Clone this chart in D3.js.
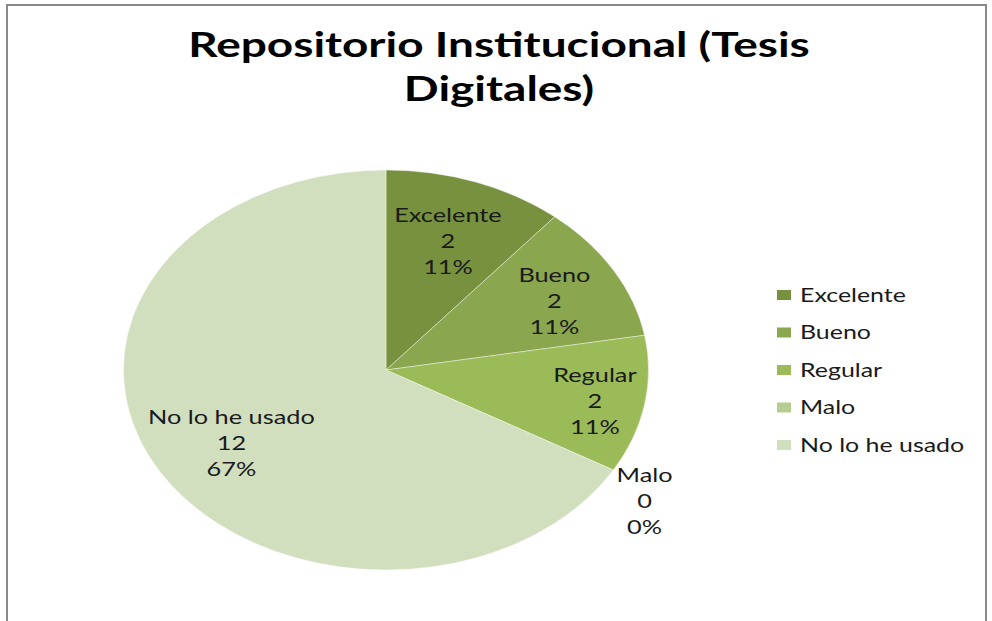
<!DOCTYPE html>
<html><head><meta charset="utf-8">
<script src="https://cdn.jsdelivr.net/npm/d3@7"></script>
<style>html,body{margin:0;padding:0;background:#fff;}svg{display:block;}</style>
</head><body>
<script>
const categories = ["Excelente", "Bueno", "Regular", "Malo", "No lo he usado"];
const values = [2, 2, 2, 0, 12];
const percents = ["11%", "11%", "11%", "0%", "67%"];
const colors = ["#77913f", "#8aa64e", "#9bbb59", "#b7cc91", "#d2dfbf"];
const titleLines = ["Repositorio Institucional (Tesis", "Digitales)"];

const W = 992, H = 621;
const sx = 1.3125; // horizontal stretch of the original picture
const cx = 386, cy = 370, R = 200;

const svg = d3.select("body").append("svg").attr("width", W).attr("height", H);
svg.append("rect").attr("x", 0).attr("y", 0).attr("width", W).attr("height", H).attr("fill", "#fff");
svg.append("rect").attr("x", 7).attr("y", 5).attr("width", 979).attr("height", 640)
  .attr("fill", "none").attr("stroke", "#8a8a8a").attr("stroke-width", 2);

// Title
const tg = svg.append("g");
titleLines.forEach((t, i) => {
  tg.append("text")
    .attr("transform", `translate(499,${57 + i * 44}) scale(${sx},1)`)
    .attr("text-anchor", "middle")
    .attr("font-family", "Lato, 'Open Sans', sans-serif")
    .attr("font-weight", "bold")
    .attr("font-size", 35)
    .attr("fill", "#000")
    .text(t);
});

// Pie
const data = categories.map((c, i) => ({ name: c, value: values[i], pct: percents[i], color: colors[i] }));
const pie = d3.pie().value(d => d.value).sort(null);
const arcs = pie(data);
const arc = d3.arc().innerRadius(0).outerRadius(R);

const pg = svg.append("g").attr("transform", `translate(${cx},${cy}) scale(${sx},1)`);
pg.selectAll("path").data(arcs.filter(a => a.data.value > 0)).enter().append("path")
  .attr("d", arc)
  .attr("fill", d => d.data.color)
  .attr("stroke", "#ffffff")
  .attr("stroke-opacity", 0.5)
  .attr("stroke-width", 0.8)
  .attr("vector-effect", "non-scaling-stroke");

// Data labels (radius factor and small angle shift per label, as placed in the original)
const labelR = [0.69, 0.73, 0.81, 1.18, 0.69];
const labelDA = [0, 1.5, 0.7, 3.4, -1.4];
const lineH = 26;
arcs.forEach((a, i) => {
  const mid = (a.startAngle + a.endAngle) / 2 + labelDA[i] * Math.PI / 180;
  const r = R * labelR[i];
  const x = cx + Math.sin(mid) * r * sx;
  const y = cy - Math.cos(mid) * r;
  const lines = [a.data.name, String(a.data.value), a.data.pct];
  const t = svg.append("text")
    .attr("transform", `translate(${x},${y + 8}) scale(${sx},1)`)
    .attr("text-anchor", "middle")
    .attr("font-family", "Lato, 'Open Sans', sans-serif")
    .attr("font-size", 19.3)
    .attr("fill", "#1a1a1a");
  lines.forEach((l, j) => {
    t.append("tspan").attr("x", 0).attr("y", (j - 1) * lineH).text(l);
  });
});

// Legend
const lg = svg.append("g");
data.forEach((d, i) => {
  const y = 295 + i * 37.5;
  lg.append("rect").attr("x", 777).attr("y", y - 5).attr("width", 14).attr("height", 10).attr("fill", d.color);
  lg.append("text")
    .attr("transform", `translate(800,${y + 6.5}) scale(${sx},1)`)
    .attr("font-family", "Lato, 'Open Sans', sans-serif")
    .attr("font-size", 19)
    .attr("fill", "#1a1a1a")
    .text(d.name);
});
</script>
</body></html>
